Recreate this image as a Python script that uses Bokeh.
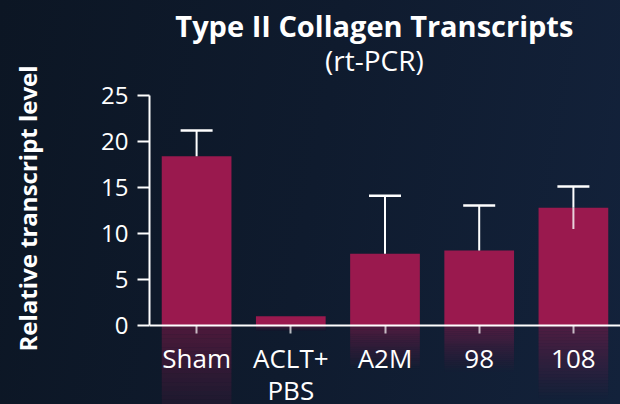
from bokeh.plotting import figure
from bokeh.models import (Range1d, FixedTicker, Label, Whisker, TeeHead, ColumnDataSource)
from bokeh.embed import file_html
from bokeh.resources import INLINE

# ---- data ----
categories = ["Sham", "ACLT+\nPBS", "A2M", "98", "108"]
values = [18.4, 1.0, 7.8, 8.15, 12.8]
err_upper = [2.8, 0.0, 6.3, 4.9, 2.3]
show_lower = [False, False, False, False, True]
y_ticks = [0, 5, 10, 15, 20, 25]

BAR = "#9a194e"
FONT = "Open Sans"
PX = 9.2  # pixels per unit on y

xs = [i + 0.5 for i in range(len(categories))]

p = figure(width=620, height=404, output_backend="svg", toolbar_location=None,
           x_range=Range1d(0, 5), y_range=Range1d(-79 / PX, (325 - 12) / PX),
           min_border_left=149, min_border_right=0, min_border_top=12, min_border_bottom=0)
p.background_fill_alpha = 0
p.border_fill_alpha = 0
p.outline_line_color = None
p.grid.visible = False

# reflections below the axis (fading mirror of each bar)
n = 24
for k in range(n):
    frac0 = k / n
    frac1 = (k + 1) / n
    alpha = 0.44 * (1 - frac0) ** 1.1
    tops = [-0.62 * v * frac0 for v in values]
    bots = [-0.62 * v * frac1 for v in values]
    p.vbar(x=xs, top=tops, bottom=bots, width=0.74, fill_color=BAR,
           fill_alpha=alpha, line_color=None)

# bars
src = ColumnDataSource(dict(x=xs, top=values))
p.vbar(x="x", top="top", bottom=0, width=0.74, source=src,
       fill_color=BAR, line_color=None)

# error bars (upper)
ex = [x for x, e in zip(xs, err_upper) if e > 0]
ev = [v for v, e in zip(values, err_upper) if e > 0]
eu = [v + e for v, e in zip(values, err_upper) if e > 0]
wsrc = ColumnDataSource(dict(base=ex, lower=ev, upper=eu))
w = Whisker(source=wsrc, base="base", lower="lower", upper="upper", dimension="height",
            line_color="white", line_width=2, level="overlay",
            upper_head=TeeHead(size=32, line_color="white", line_width=2.5),
            lower_head=None)
p.add_layout(w)

lx = [x for x, s in zip(xs, show_lower) if s]
lv = [v for v, s in zip(values, show_lower) if s]
ll = [v - e for v, e, s in zip(values, err_upper, show_lower) if s]
lsrc = ColumnDataSource(dict(base=lx, lower=ll, upper=lv))
w2 = Whisker(source=lsrc, base="base", lower="lower", upper="upper", dimension="height",
             line_color="white", line_width=2, line_alpha=0.8, level="overlay",
             upper_head=None, lower_head=None)
p.add_layout(w2)

# axes
xa = p.xaxis[0]
xa.fixed_location = 0
xa.ticker = FixedTicker(ticks=xs)
xa.major_label_overrides = {x: c for x, c in zip(xs, categories)}
xa.axis_line_color = "white"
xa.axis_line_width = 2
xa.major_tick_line_color = "white"
xa.major_tick_line_alpha = 0.7
xa.major_tick_line_width = 2
xa.major_tick_out = 8
xa.major_tick_in = 0
xa.minor_tick_line_color = None
xa.major_label_text_color = "white"
xa.major_label_text_font = FONT
xa.major_label_text_font_size = "26px"
xa.major_label_standoff = 6
xa.major_label_text_line_height = 0.89

ya = p.yaxis[0]
ya.bounds = (0, 25)
ya.ticker = FixedTicker(ticks=y_ticks)
ya.axis_line_color = "white"
ya.axis_line_width = 2
ya.major_tick_line_color = "white"
ya.major_tick_line_width = 2
ya.major_tick_out = 12
ya.major_tick_in = 0
ya.minor_tick_line_color = None
ya.major_label_text_color = "white"
ya.major_label_text_font = FONT
ya.major_label_text_font_size = "24px"
ya.major_label_standoff = 9
ya.axis_label = "Relative transcript level"
ya.axis_label_text_color = "white"
ya.axis_label_text_font = FONT
ya.axis_label_text_font_style = "bold"
ya.axis_label_text_font_size = "24px"
ya.axis_label_standoff = 54

# titles
p.add_layout(Label(x=2.387, y=(325 - 24.5) / PX, text="Type II Collagen Transcripts",
                   text_align="center", text_baseline="alphabetic", text_color="white",
                   text_font=FONT, text_font_style="bold", text_font_size="29px"))
p.add_layout(Label(x=2.387, y=(325 - 59.5) / PX, text="(rt-PCR)", text_align="center",
                   text_baseline="alphabetic", text_color="white", text_font=FONT,
                   text_font_size="28px"))

template = """{% block postamble %}<style>html, body { margin: 0 !important; padding: 0 !important; background: linear-gradient(100deg, #0c1624 0%, #0f1b2e 50%, #13223b 100%); background-attachment: fixed; min-height: 100%; overflow: hidden; }</style>{% endblock %}"""

open("out.html", "w").write(file_html(p, INLINE, template=template))
